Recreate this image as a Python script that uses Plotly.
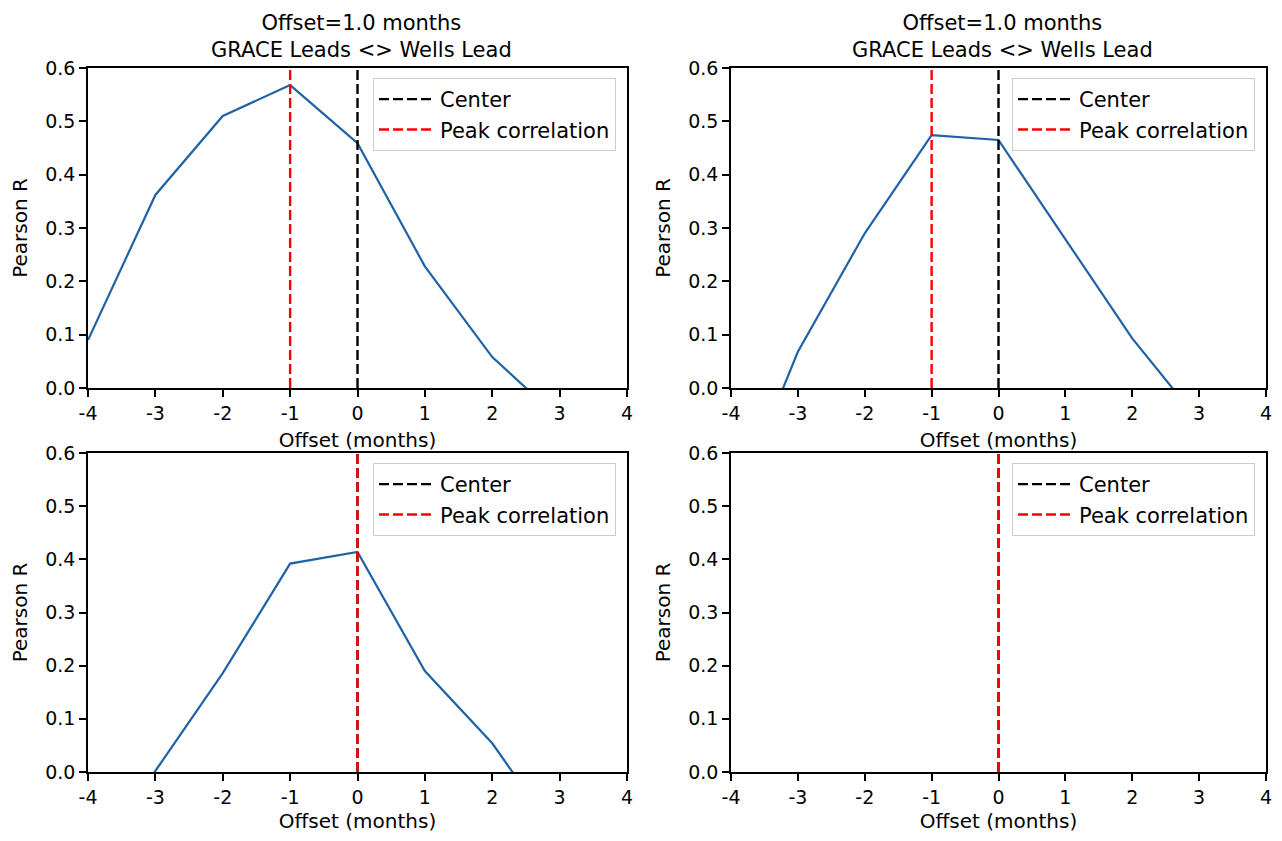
import plotly.graph_objects as go

# ---- data ----
offsets = [-4, -3, -2, -1, 0, 1, 2, 3, 4]
r_top_left = [0.090, 0.362, 0.510, 0.568, 0.459, 0.228, 0.058, -0.058, -0.120]
r_top_right = [-0.240, 0.068, 0.290, 0.474, 0.465, 0.280, 0.093, -0.062, -0.150]
r_bottom_left = [-0.200, 0.002, 0.186, 0.392, 0.414, 0.190, 0.054, -0.126, -0.200]
r_bottom_right = [None, None, None, None, None, None, None, None, None]
center_offsets = [0, 0, 0, 0]
peak_offsets = [-1, -1, 0, 0]
panel_title = "Offset=1.0 months<br>GRACE Leads &lt;&gt; Wells Lead"
x_tick_vals = [-4, -3, -2, -1, 0, 1, 2, 3, 4]
x_tick_text = ["-4", "-3", "-2", "-1", "0", "1", "2", "3", "4"]
y_tick_vals = [0.0, 0.1, 0.2, 0.3, 0.4, 0.5, 0.6]
y_tick_text = ["0.0", "0.1", "0.2", "0.3", "0.4", "0.5", "0.6"]
y_range = [0.0, 0.6]
x_range = [-4, 4]

series = [r_top_left, r_top_right, r_bottom_left, r_bottom_right]

OFF = 8  # default page body margin
W, H = 1282 - 2 * OFF, 841 - 2 * OFF
FONT = "DejaVu Sans"
BLUE = "#1f62a6"

# axes boxes in window pixels (left, right, top, bottom)
boxes = [
    (88, 627, 68, 388),
    (731, 1266, 68, 388),
    (88, 627, 453, 772),
    (731, 1266, 453, 772),
]


def px_x(v):
    return (v - OFF) / W


def px_y(v):
    return 1 - (v - OFF) / H


fig = go.Figure()

for i, vals in enumerate(series):
    n = i + 1
    xa = "x" if n == 1 else f"x{n}"
    ya = "y" if n == 1 else f"y{n}"
    lg = "legend" if n == 1 else f"legend{n}"
    fig.add_trace(go.Scatter(x=offsets, y=vals, mode="lines",
                             line=dict(color=BLUE, width=2.2),
                             xaxis=xa, yaxis=ya, showlegend=False,
                             connectgaps=False))
    fig.add_trace(go.Scatter(x=[center_offsets[i], center_offsets[i]], y=y_range,
                             mode="lines", name="Center",
                             line=dict(color="black", width=2.4, dash="10px,4px"),
                             xaxis=xa, yaxis=ya, legend=lg, showlegend=True))
    fig.add_trace(go.Scatter(x=[peak_offsets[i], peak_offsets[i]], y=y_range,
                             mode="lines", name="Peak correlation",
                             line=dict(color="red", width=2.4, dash="10px,4px"),
                             xaxis=xa, yaxis=ya, legend=lg, showlegend=True))

layout = dict(
    width=W, height=H,
    margin=dict(l=0, r=0, t=0, b=0, autoexpand=False),
    paper_bgcolor="white", plot_bgcolor="white",
    font=dict(family=FONT, size=19, color="black"),
    annotations=[],
)

for i, (l, r, t, b) in enumerate(boxes):
    n = i + 1
    xk = "xaxis" if n == 1 else f"xaxis{n}"
    yk = "yaxis" if n == 1 else f"yaxis{n}"
    lk = "legend" if n == 1 else f"legend{n}"
    ya_name = "y" if n == 1 else f"y{n}"
    xa_name = "x" if n == 1 else f"x{n}"
    axis_common = dict(showline=True, linecolor="black", linewidth=1.5, mirror=True,
                       ticks="outside", ticklen=7, tickwidth=1.5, tickcolor="black",
                       showgrid=False, zeroline=False, automargin=False,
                       ticklabeloverflow="allow",
                       tickfont=dict(family=FONT, size=19, color="black"))
    layout[xk] = dict(axis_common, domain=[px_x(l), px_x(r)], range=x_range,
                      tickvals=x_tick_vals, ticktext=x_tick_text, anchor=ya_name,
                      title=dict(text="Offset (months)", font=dict(family=FONT, size=20),
                                 standoff=10))
    layout[yk] = dict(axis_common, domain=[px_y(b), px_y(t)], range=y_range,
                      tickvals=y_tick_vals, ticktext=y_tick_text, anchor=xa_name,
                      title=dict(text="Pearson R", font=dict(family=FONT, size=20),
                                 standoff=12))
    layout[lk] = dict(x=px_x(r - 11), y=px_y(t + 10), xanchor="right", yanchor="top",
                      bgcolor="white", bordercolor="#cccccc", borderwidth=1,
                      font=dict(family=FONT, size=21, color="black"),
                      tracegroupgap=0, itemwidth=56)
    if n <= 2:
        cx = px_x((l + r) / 2 + 4)
        layout["annotations"].append(dict(text=panel_title, x=cx, y=px_y(36.5),
                                          xref="paper", yref="paper", showarrow=False,
                                          xanchor="center", yanchor="middle",
                                          font=dict(family=FONT, size=21, color="black")))

fig.update_layout(**layout)
fig.write_html("out.html")
